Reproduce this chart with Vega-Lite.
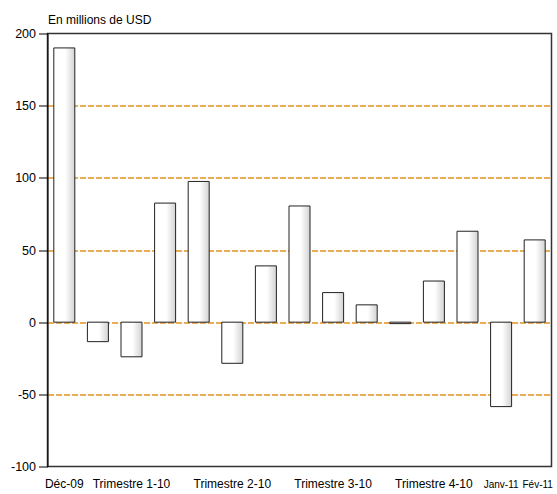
{
  "$schema": "https://vega.github.io/schema/vega-lite/v6.json",
  "width": 504,
  "height": 433,
  "autosize": {"type": "none"},
  "padding": {"left": 47.5, "top": 33.5, "right": 5, "bottom": 27},
  "background": "white",
  "config": {
    "view": {"stroke": "#333333", "strokeWidth": 1.5},
    "font": "Liberation Sans"
  },
  "data": {
    "values": [
      {"mois": "Déc-09", "valeur": 190},
      {"mois": "Janv-10", "valeur": -13.5},
      {"mois": "Févr-10", "valeur": -24},
      {"mois": "Mars-10", "valeur": 82.5},
      {"mois": "Avr-10", "valeur": 97.5},
      {"mois": "Mai-10", "valeur": -28.5},
      {"mois": "Juin-10", "valeur": 39},
      {"mois": "Juil-10", "valeur": 80.5},
      {"mois": "Août-10", "valeur": 20.5},
      {"mois": "Sept-10", "valeur": 12},
      {"mois": "Oct-10", "valeur": -1},
      {"mois": "Nov-10", "valeur": 28.5},
      {"mois": "Déc-10", "valeur": 63},
      {"mois": "Janv-11", "valeur": -58.5},
      {"mois": "Fév-11", "valeur": 57}
    ]
  },
  "mark": {
    "type": "bar",
    "fill": {
      "gradient": "linear",
      "x1": 0, "y1": 0, "x2": 1, "y2": 0,
      "stops": [
        {"offset": 0, "color": "#ffffff"},
        {"offset": 0.55, "color": "#ffffff"},
        {"offset": 1, "color": "#d2d2d2"}
      ]
    },
    "stroke": "#222222",
    "strokeWidth": 1
  },
  "encoding": {
    "x": {
      "field": "mois",
      "type": "ordinal",
      "sort": null,
      "scale": {"paddingInner": 0.375, "paddingOuter": 0.1875},
      "axis": {
        "title": null,
        "ticks": false,
        "tickSize": 0,
        "domain": false,
        "labelAngle": 0,
        "labelBaseline": "alphabetic",
        "labelPadding": 21,
        "labelOverlap": false,
        "labelColor": "#000000",
        "labelFontSize": {"condition": {"test": "datum.value=='Janv-11'||datum.value=='Fév-11'", "value": 10}, "value": 12},
        "labelOffset": {"condition": {"test": "datum.value=='Fév-11'", "value": 3}, "value": 0},
        "labelExpr": "datum.value=='Févr-10'?'Trimestre 1-10':datum.value=='Mai-10'?'Trimestre 2-10':datum.value=='Août-10'?'Trimestre 3-10':datum.value=='Nov-10'?'Trimestre 4-10':(datum.value=='Déc-09'||datum.value=='Janv-11'||datum.value=='Fév-11')?datum.value:''"
      }
    },
    "y": {
      "field": "valeur",
      "type": "quantitative",
      "scale": {"domain": [-100, 200], "nice": false},
      "axis": {
        "values": [-100, -50, 0, 50, 100, 150, 200],
        "labelExpr": "datum.value < 0 ? '-' + abs(datum.value) : '' + datum.value",
        "grid": true,
        "gridColor": "#E3931E",
        "gridDash": [6, 2],
        "gridWidth": 1.3,
        "gridOpacity": {"condition": {"test": "datum.value==200||datum.value==-100", "value": 0}, "value": 1},
        "domainColor": "#000000",
        "tickColor": "#000000",
        "tickSize": 9,
        "labelPadding": 3,
        "labelFontSize": 12.5,
        "labelColor": "#000000",
        "title": "En millions de USD",
        "titleAngle": 0,
        "titleAlign": "left",
        "titleBaseline": "alphabetic",
        "titleX": 0,
        "titleY": -10,
        "titleFontSize": 12,
        "titleFontWeight": "normal",
        "titleColor": "#000000"
      }
    }
  }
}
